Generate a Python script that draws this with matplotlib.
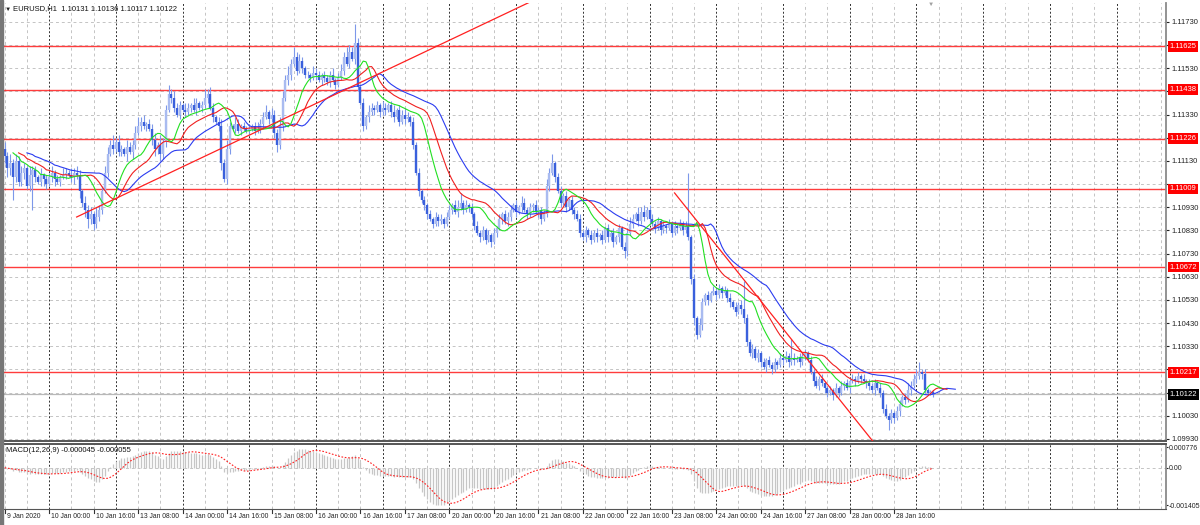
import numpy as np
import pandas as pd
import matplotlib.pyplot as plt
import matplotlib.transforms as mtransforms
from matplotlib.patches import Rectangle

plt.rcParams['font.family'] = ['Liberation Sans', 'DejaVu Sans']

# EURUSD H1 closes, in pips above 1.1000, one bar per hour from 9 Jan 08:00
closes_pips = [
    115, 110, 112, 106, 113,  104, 108, 110, 102, 107, 109,
    106, 104, 107, 105, 103, 106, 108, 105, 104, 106, 107,
    108, 107, 106, 108, 107,  100, 95, 92, 88, 90, 86, 89, 92,
    100, 108,  116, 120, 118, 121, 117,  118, 116, 119, 117, 120,
    125, 128, 130, 128, 129, 127,  122, 118, 120, 116, 121,
    135, 142, 140,  136, 133, 137, 135, 134,  136, 137, 135, 138, 136, 137, 140,
    142, 136,  132, 130, 128,  112, 105, 118,
    128, 127, 129, 126, 128, 127,  126, 127, 128, 126, 127, 129,
    132, 134, 131, 133,  125, 120, 128,  140, 148, 150,
    155, 158, 152, 156, 153, 150,  150, 149, 151, 150, 148, 150,
    149, 147, 150, 148, 146, 149,  152, 158, 155, 160, 157, 164,
    145, 138,  128, 132, 134,  136, 135, 137, 134, 136, 135, 137, 134,
    132, 135, 130, 133, 131,  132, 130,  120, 108, 100, 96, 94,
    90, 88, 86, 89, 87, 88, 86, 89,  92, 94, 91, 93, 95, 92, 94, 93, 90,
    85, 82, 80, 83, 79, 81, 78, 82, 84,  88, 90, 87, 89,
    92, 94, 91, 93, 95, 92, 90, 93, 94, 91, 92,  88, 90,
    102, 108, 112, 106, 100,  95, 98, 93, 96, 92,  90, 88,
    82, 80, 83, 81, 79, 82, 80,  81, 79, 84, 80, 82, 78, 80,
    84, 76, 74, 82, 86,  88, 90, 87, 91, 89, 92, 88,
    86, 84, 87, 83, 85, 84, 86, 82, 85, 84, 86, 83, 85,
    80, 62,  45, 38, 42,  52, 55, 53, 56,  57, 55, 58, 56, 57, 54,
    52, 50, 48, 51, 49,  45,  35, 30, 32, 28, 30,  26, 24, 27, 25, 23, 26, 25,
    28, 27, 29, 26, 28,  27, 28, 26, 29, 30, 27,  22, 18, 16, 19, 17, 15,
    13, 14, 12, 15, 13,  16, 17, 15, 18,  19, 18, 20, 19, 18, 17,
    16, 14, 17, 15, 13,  6, 3, 1, 4, 2, 5,  8, 11, 10, 14, 16,
    19, 20, 22, 21,  14, 13, 13.1, 12.2,
]
# wick lengths in pips (base 36, one character per bar)
up_wicks = ("32423 232142 21312231213 21323 21323142 23 32423 21322 342312 23142 "
            "242 32213 2132124 23 212 324 213212 121232 2313 224 324 242321 213221 "
            "212312 324328 21 213 21213212 31223 21 21212 12121212 212341212 "
            "121212121 2122 21213212121 12 32412 21212 12 2121212 1212121 21223 "
            "2132312 2121212121212 n1 213 2121 212121 21212 c 21212 1212121 21218 "
            "212121 212121 12121 2121 212121 21212 121212 21232 2341 2111")
down_wicks = ("343a2 22312f 21232123121 21232 32342322 21 21212 21313 212121 23232 "
              "212 21212 1212121 21 212 312 212121 121212 2121 232 212 212121 121212 "
              "212121 121212 21 212 12121212 21212 12 21212 21212121 121212121 "
              "212121212 1212 21212121212 21 12121 21212 21 2121212 1212121 21321 "
              "2121212 1212121212121 12 321 2121 121212 21212 2 21212 2121212 12121 "
              "212121 121212 21212 1212 121212 21212 214121 21212 1212 1111")

levels = [1.11625, 1.11438, 1.11226, 1.11009, 1.10672, 1.10217]
last_price = 1.10122
trend_up_idx, trend_up_px = [25.9, 190.0], [1.10888, 1.11822]
trend_dn_idx, trend_dn_px = [241.0, 313.0], [1.10992, 1.09910]

price_ticks = [round(1.0993 + 0.001 * k, 5) for k in range(19)]
hidden_ticks = [1.1163, 1.1143, 1.1123, 1.1103, 1.1023, 1.1013]
time_labels = ['9 Jan 2020', '10 Jan 00:00', '10 Jan 16:00', '13 Jan 08:00', '14 Jan 00:00',
               '14 Jan 16:00', '15 Jan 08:00', '16 Jan 00:00', '16 Jan 16:00', '17 Jan 08:00',
               '20 Jan 00:00', '20 Jan 16:00', '21 Jan 08:00', '22 Jan 00:00', '22 Jan 16:00',
               '23 Jan 08:00', '24 Jan 00:00', '24 Jan 16:00', '27 Jan 08:00', '28 Jan 00:00',
               '28 Jan 16:00']
macd_ticks = [0.000776, 0.0, -0.001405]
macd_tick_labels = ['0.000776', '0.00', '-0.001405']

# build OHLC
n = len(closes_pips)
up = np.array([int(c, 36) for c in up_wicks.replace(' ', '')][:n]) / 10000
dn = np.array([int(c, 36) for c in down_wicks.replace(' ', '')][:n]) / 10000
close = 1.1 + np.array(closes_pips) / 10000
opn = np.r_[close[0] + 0.0003, close[:-1]]
opn[-1] = 1.10131
high = np.maximum(opn, close) + up
low = np.minimum(opn, close) - dn
idx = np.arange(n)


def smma(x, p):
    out = np.empty_like(x)
    out[0] = x[0]
    for i in range(1, len(x)):
        out[i] = (out[i - 1] * (p - 1) + x[i]) / p
    return out


median = (high + low) / 2
jaw, teeth, lips = smma(median, 13), smma(median, 8), smma(median, 5)

s = pd.Series(close)
macd = (s.ewm(span=12, adjust=False).mean() - s.ewm(span=26, adjust=False).mean()).values
signal = pd.Series(macd).rolling(9, min_periods=1).mean().values

fig = plt.figure(figsize=(12, 5.25), dpi=100)
fig.patches.append(Rectangle((0, 0), 3 / 1200, 1, transform=fig.transFigure, color='#777777'))
ax = fig.add_axes([3 / 1200, 1 - 441 / 525, 1163 / 1200, 438 / 525])
ax2 = fig.add_axes([3 / 1200, 1 - 509 / 525, 1163 / 1200, 65 / 525])

xmax = 417.8
for a in (ax, ax2):
    a.set_xlim(-0.6, xmax)
    for k in range(0, 420, 8):
        if (k - 16) % 24 == 0:
            a.axvline(k, color='#303030', lw=0.7, ls=(0, (2, 2)), zorder=0)
        else:
            a.axvline(k, color='#c4c4c4', lw=0.7, ls=(0, (3, 3)), zorder=0)
    a.spines['left'].set_visible(False)
    a.spines['right'].set_color('#8a8a8a')
    a.spines['right'].set_linewidth(1.3)
    a.set_xticks([])

ax.spines['top'].set_visible(False)
ax.spines['bottom'].set_color('#555555')
ax.spines['bottom'].set_linewidth(1.4)
ax2.spines['top'].set_color('#555555')
ax2.spines['top'].set_linewidth(1.4)
ax2.spines['bottom'].set_color('#555555')

# price panel
ax.set_ylim(1.09921, 1.11812)
for t in price_ticks:
    ax.axhline(t, color='#c4c4c4', lw=0.7, ls=(0, (3, 3)), zorder=0)
ax.yaxis.tick_right()
ax.set_yticks(price_ticks)
ax.set_yticklabels(['' if t in hidden_ticks else f'{t:.5f}' for t in price_ticks])
ax.tick_params(axis='y', length=2.5, width=0.8, pad=1.5, labelsize=5.5, colors='#222222')

for lv in levels:
    ax.axhline(lv, color='#ff1a1a', lw=1.0, alpha=0.85, zorder=1)
ax.axhline(last_price, color='#b8b8b8', lw=0.9, zorder=1)

bull = close >= opn
body_lo = np.minimum(opn, close)
body_hi = np.maximum(np.maximum(opn, close), body_lo + 0.00002)
ax.vlines(idx, low, high, color='#7d98ea', lw=0.8, zorder=2)
ax.vlines(idx[bull], body_lo[bull], body_hi[bull], color='#a9bbf0', lw=1.7, zorder=3)
ax.vlines(idx[~bull], body_lo[~bull], body_hi[~bull], color='#3a60dc', lw=1.7, zorder=3)

ax.plot(idx + 8, jaw, color='#2b3cf0', lw=0.8, zorder=4)
ax.plot(idx + 5, teeth, color='#f02020', lw=0.8, zorder=4)
ax.plot(idx + 3, lips, color='#22e022', lw=0.8, zorder=4)

ax.plot(trend_up_idx, trend_up_px, color='#ff2020', lw=0.9, zorder=5)
ax.plot(trend_dn_idx, trend_dn_px, color='#ff2020', lw=0.9, zorder=5)

lab_tr = mtransforms.blended_transform_factory(ax.transAxes, ax.transData)
for lv in levels:
    ax.text(1.003, lv, f'{lv:.5f}', transform=lab_tr, ha='left', va='center', fontsize=5.5,
            color='white', bbox=dict(boxstyle='square,pad=0.25', fc='#ff0000', ec='none'),
            clip_on=False, zorder=6)
ax.text(1.003, last_price, f'{last_price:.5f}', transform=lab_tr, ha='left', va='center',
        fontsize=5.5, color='white', bbox=dict(boxstyle='square,pad=0.25', fc='#000000', ec='none'),
        clip_on=False, zorder=6)

fig.text(5 / 1200, 1 - 9 / 525, '\u25bc', fontsize=4.5, va='center', color='#222222')
fig.text(13 / 1200, 1 - 9 / 525, 'EURUSD,H1  1.10131 1.10136 1.10117 1.10122', fontsize=5.5,
         va='center', color='#111111')
fig.text(931 / 1200, 1 - 4 / 525, '\u25bc', fontsize=4.5, ha='center', va='center', color='#a0a0a0')

# MACD panel
ax2.set_ylim(-0.00155, 0.00089)
ax2.axhline(0, color='#c4c4c4', lw=0.7, ls=(0, (3, 3)), zorder=0)
ax2.vlines(idx, 0, macd, color='#c6c6c6', lw=0.9, zorder=2)
ax2.plot(idx, signal, color='#ff2020', lw=0.8, ls=(0, (1.5, 1.5)), zorder=3)
ax2.yaxis.tick_right()
ax2.set_yticks(macd_ticks)
ax2.set_yticklabels(macd_tick_labels)
ax2.tick_params(axis='y', length=1.5, width=0.8, pad=0.6, labelsize=5.0, colors='#222222')
ax2.text(0.003, 0.9, 'MACD(12,26,9) -0.000045 -0.000055', transform=ax2.transAxes,
         fontsize=5.5, va='center', color='#111111')

lab_idx = list(range(0, 16 * len(time_labels), 16))
tx = mtransforms.blended_transform_factory(ax2.transData, ax2.transAxes)
for i, lab in zip(lab_idx, time_labels):
    ax2.plot([i, i], [0, -0.06], transform=tx, color='#333333', lw=0.8, clip_on=False)
    ax2.text(i + 0.8, -0.06, lab, transform=tx, fontsize=4.9, ha='left', va='top', color='#222222')

fig.savefig('out.png', dpi=100, facecolor='white')
